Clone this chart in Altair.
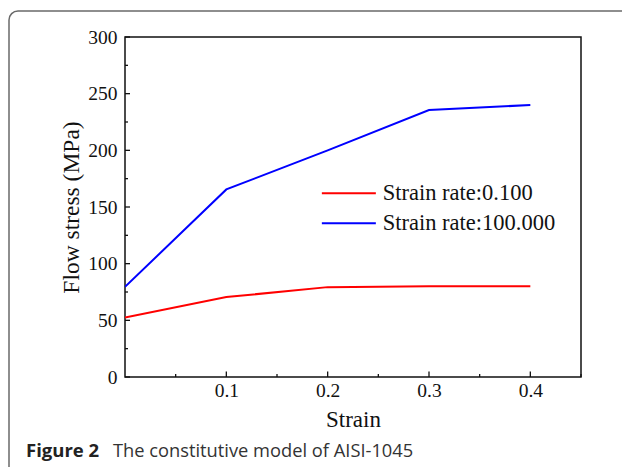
import altair as alt
import pandas as pd

# ---- data ----
strain = [0.0, 0.1, 0.2, 0.3, 0.4]
stress_rate_0_1 = [52.5, 70.5, 79.3, 80.0, 80.0]
stress_rate_100 = [79.5, 165.5, 200.0, 235.5, 240.0]
series_names = ["Strain rate:0.100", "Strain rate:100.000"]
series_colors = ["#ff0000", "#0000ff"]

x_label_values = [0.1, 0.2, 0.3, 0.4]
x_minor_ticks = [0.05, 0.15, 0.25, 0.35, 0.45]
y_label_values = [0, 50, 100, 150, 200, 250, 300]
y_minor_ticks = [25, 75, 125, 175, 225, 275]

caption_bold = "Figure 2"
caption_text = "The constitutive model of AISI-1045"

W, H = 456, 340
SERIF = "Liberation Serif"
INK = "#111"

rows = []
for name, vals in zip(series_names, [stress_rate_0_1, stress_rate_100]):
    for s, v in zip(strain, vals):
        rows.append({"strain": s, "stress": v, "series": name})
df = pd.DataFrame(rows)

xscale = alt.Scale(domain=[0, 0.45], nice=False, zero=False)
yscale = alt.Scale(domain=[0, 300], nice=False)

xaxis = alt.Axis(title="Strain", values=x_label_values, format=".1f", ticks=False,
                 domain=False, grid=False, labelFont=SERIF, labelFontSize=19.5,
                 labelColor=INK, labelPadding=4, titleFont=SERIF, titleFontSize=23,
                 titleFontWeight="normal", titleColor=INK, titlePadding=9)
yaxis = alt.Axis(title="Flow stress (MPa)", values=y_label_values, ticks=False,
                 domain=False, grid=False, labelFont=SERIF, labelFontSize=19.5,
                 labelColor=INK, labelPadding=8, titleFont=SERIF, titleFontSize=23.5,
                 titleFontWeight="normal", titleColor=INK, titlePadding=4)

# custom wide stroke symbol: path spans -5..5 units -> 5*sqrt(size) px = 54 px
sym_size = (54 / 5) ** 2

lines = alt.Chart(df).mark_line(strokeWidth=2, clip=True).encode(
    x=alt.X("strain:Q", scale=xscale, axis=xaxis),
    y=alt.Y("stress:Q", scale=yscale, axis=yaxis),
    color=alt.Color("series:N",
                    scale=alt.Scale(domain=series_names, range=series_colors),
                    legend=alt.Legend(orient="none", legendX=212.6, legendY=145, title=None,
                                      symbolType="M-5,0H5", symbolSize=sym_size,
                                      symbolStrokeWidth=2, labelFont=SERIF,
                                      labelFontSize=22.5, labelColor=INK, labelLimit=400,
                                      labelOffset=22.6, rowPadding=7, padding=0)),
)

ytick_major = alt.Chart(pd.DataFrame({"stress": y_label_values})).mark_rule(
    color=INK, strokeWidth=1.3).encode(
    y=alt.Y("stress:Q", scale=yscale, axis=yaxis), x=alt.value(0), x2=alt.value(5))
ytick_minor = alt.Chart(pd.DataFrame({"stress": y_minor_ticks})).mark_rule(
    color=INK, strokeWidth=1.3).encode(
    y=alt.Y("stress:Q", scale=yscale, axis=yaxis), x=alt.value(0), x2=alt.value(3))
xtick_major = alt.Chart(pd.DataFrame({"strain": x_label_values})).mark_rule(
    color=INK, strokeWidth=1.3).encode(
    x=alt.X("strain:Q", scale=xscale, axis=xaxis), y=alt.value(H), y2=alt.value(H - 5.5))
xtick_minor = alt.Chart(pd.DataFrame({"strain": x_minor_ticks})).mark_rule(
    color=INK, strokeWidth=1.3).encode(
    x=alt.X("strain:Q", scale=xscale, axis=xaxis), y=alt.value(H), y2=alt.value(H - 3))

one = pd.DataFrame({"a": [0]})
border = alt.Chart(one).mark_rect(
    fill=None, stroke="#6a6a6a", strokeWidth=1.5, cornerRadius=9).encode(
    x=alt.value(-116), x2=alt.value(700), y=alt.value(-26), y2=alt.value(600))
cap1 = alt.Chart(one).mark_text(
    font="Open Sans", fontSize=18.5, fontWeight="bold", align="left",
    baseline="alphabetic", color="#222").encode(
    x=alt.value(-99), y=alt.value(420), text=alt.value(caption_bold))
cap2 = alt.Chart(one).mark_text(
    font="Open Sans", fontSize=18.3, align="left", baseline="alphabetic",
    color="#333").encode(
    x=alt.value(-12), y=alt.value(420), text=alt.value(caption_text))

chart = alt.layer(
    lines, ytick_major, ytick_minor, xtick_major, xtick_minor, border, cap1, cap2
).properties(
    width=W, height=H,
    autosize=alt.AutoSizeParams(type="none"),
    padding={"left": 125, "top": 37, "right": 41, "bottom": 90},
    background="white",
).configure_view(stroke=INK, strokeWidth=1.5)

chart.save("out.html", embed_options={"renderer": "svg", "actions": False})
